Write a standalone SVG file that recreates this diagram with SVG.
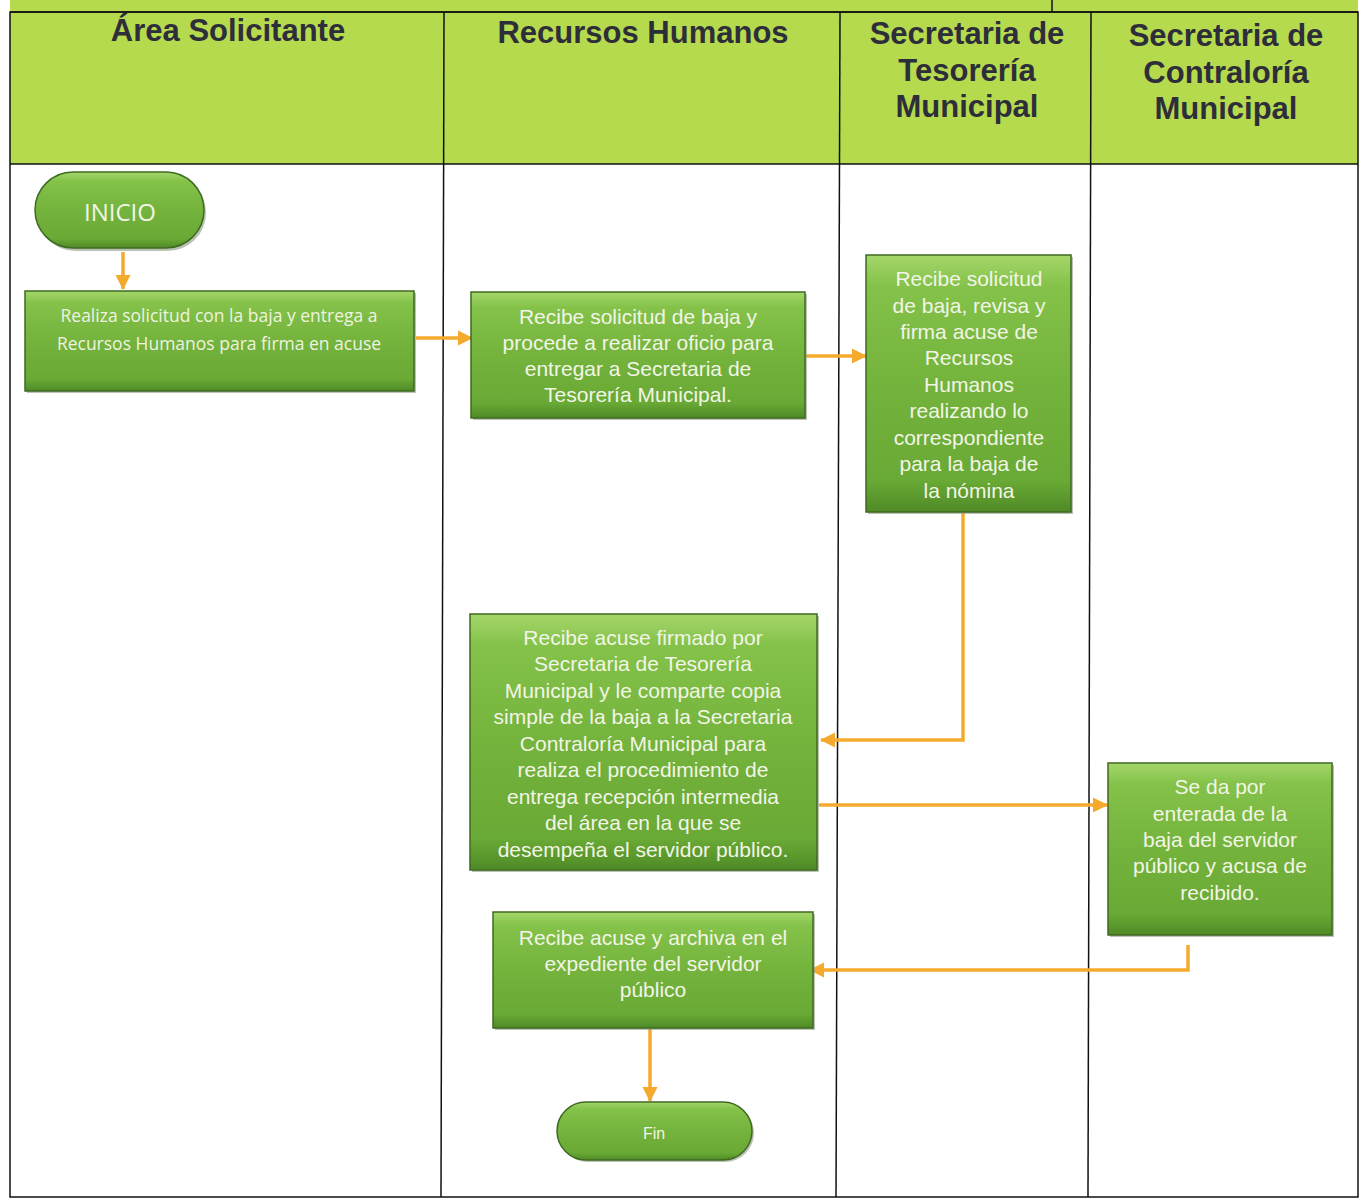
<svg xmlns="http://www.w3.org/2000/svg" width="1364" height="1201" viewBox="0 0 1364 1201">
<style>
.hdr{font-family:"Liberation Sans",Arial,sans-serif;font-weight:bold;font-size:31px;fill:#2e2e3a;text-anchor:middle}
.bt{font-family:"Liberation Sans",Arial,sans-serif;font-size:21px;fill:#f2f5e6;text-anchor:middle}
.bt1{font-family:"Open Sans","Liberation Sans",sans-serif;font-size:17.5px;fill:#eef3e0;text-anchor:middle}
.box{fill:url(#g);stroke:#3f6a22;stroke-width:1.5}
.sh{fill:#8a9a80;opacity:0.6}
.line{stroke:#111;stroke-width:1.5;fill:none}
.con{stroke:#f4aa2c;stroke-width:3.5;fill:none}
</style>
<defs>
<linearGradient id="g" x1="0" y1="0" x2="0" y2="1">
<stop offset="0" stop-color="#a5d66a"/>
<stop offset="0.12" stop-color="#84c24a"/>
<stop offset="0.5" stop-color="#74b33c"/>
<stop offset="0.88" stop-color="#69a935"/>
<stop offset="1" stop-color="#4f8a26"/>
</linearGradient>
<marker id="ah" markerUnits="userSpaceOnUse" markerWidth="18" markerHeight="18" refX="14" refY="9" orient="auto">
<path d="M0,1.5 L15,9 L0,16.5 Z" fill="#f4aa2c"/>
</marker>
</defs>
<rect width="1364" height="1201" fill="#ffffff"/>
<rect x="10" y="0" width="1348" height="164" fill="#b6da4e"/>
<g class="line">
<line x1="1052" y1="0" x2="1052" y2="12"/>
<line x1="10" y1="12" x2="1358" y2="12"/>
<line x1="10" y1="164" x2="1358" y2="164"/>
<rect x="10" y="12" width="1348" height="1185"/>
<line x1="444" y1="12" x2="441" y2="1197"/>
<line x1="840" y1="12" x2="836" y2="1197"/>
<line x1="1091" y1="12" x2="1088" y2="1197"/>
</g>
<g id="lanes">
<text class="hdr" x="228" y="41">Área Solicitante</text>
<text class="hdr" x="643" y="43">Recursos Humanos</text>
<text class="hdr" x="967" y="44">Secretaria de</text>
<text class="hdr" x="967" y="81">Tesorería</text>
<text class="hdr" x="967" y="117">Municipal</text>
<text class="hdr" x="1226" y="46">Secretaria de</text>
<text class="hdr" x="1226" y="83">Contraloría</text>
<text class="hdr" x="1226" y="119">Municipal</text>
</g>
<g id="connectors">
<line class="con" x1="123" y1="252" x2="123" y2="289" marker-end="url(#ah)"/>
<line class="con" x1="416" y1="338" x2="472" y2="338" marker-end="url(#ah)"/>
<line class="con" x1="806" y1="356" x2="866" y2="356" marker-end="url(#ah)"/>
<polyline class="con" points="963,513 963,740 821,740" marker-end="url(#ah)"/>
<line class="con" x1="819" y1="805" x2="1107" y2="805" marker-end="url(#ah)"/>
<polyline class="con" points="1188,945 1188,970 810,970" marker-end="url(#ah)"/>
<line class="con" x1="650" y1="1029" x2="650" y2="1101" marker-end="url(#ah)"/>
</g>
<g id="inicio">
<rect class="sh" x="37" y="175" width="169" height="76" rx="38"/>
<rect class="box" x="35" y="172" width="169" height="76" rx="38"/>
<text x="120" y="221" font-family="Open Sans, Liberation Sans, sans-serif" font-size="24" fill="#f2f5e6" text-anchor="middle">INICIO</text>
</g>
<g id="n1">
<rect class="sh" x="27" y="293" width="389" height="100"/>
<rect class="box" x="25" y="291" width="389" height="100"/>
<text class="bt1" x="219" y="322">Realiza solicitud con la baja y entrega a</text>
<text class="bt1" x="219" y="350">Recursos Humanos para firma en acuse</text>
</g>
<g id="n2">
<rect class="sh" x="473" y="294" width="334" height="126"/>
<rect class="box" x="471" y="292" width="334" height="126"/>
<text class="bt" x="638" y="324">Recibe solicitud de baja y</text>
<text class="bt" x="638" y="350">procede a realizar oficio para</text>
<text class="bt" x="638" y="376">entregar a Secretaria de</text>
<text class="bt" x="638" y="402">Tesorería Municipal.</text>
</g>
<g id="n3">
<rect class="sh" x="868" y="257" width="205" height="257"/>
<rect class="box" x="866" y="255" width="205" height="257"/>
<text class="bt" x="969" y="286">Recibe solicitud</text>
<text class="bt" x="969" y="313">de baja, revisa y</text>
<text class="bt" x="969" y="339">firma acuse de</text>
<text class="bt" x="969" y="365">Recursos</text>
<text class="bt" x="969" y="392">Humanos</text>
<text class="bt" x="969" y="418">realizando lo</text>
<text class="bt" x="969" y="445">correspondiente</text>
<text class="bt" x="969" y="471">para la baja de</text>
<text class="bt" x="969" y="498">la nómina</text>
</g>
<g id="n4">
<rect class="sh" x="472" y="616" width="347" height="256"/>
<rect class="box" x="470" y="614" width="347" height="256"/>
<text class="bt" x="643" y="645">Recibe acuse firmado por</text>
<text class="bt" x="643" y="671">Secretaria de Tesorería</text>
<text class="bt" x="643" y="698">Municipal y le comparte copia</text>
<text class="bt" x="643" y="724">simple de la baja a la Secretaria</text>
<text class="bt" x="643" y="751">Contraloría Municipal para</text>
<text class="bt" x="643" y="777">realiza el procedimiento de</text>
<text class="bt" x="643" y="804">entrega recepción intermedia</text>
<text class="bt" x="643" y="830">del área en la que se</text>
<text class="bt" x="643" y="857">desempeña el servidor público.</text>
</g>
<g id="n5">
<rect class="sh" x="1110" y="765" width="224" height="172"/>
<rect class="box" x="1108" y="763" width="224" height="172"/>
<text class="bt" x="1220" y="794">Se da por</text>
<text class="bt" x="1220" y="821">enterada de la</text>
<text class="bt" x="1220" y="847">baja del servidor</text>
<text class="bt" x="1220" y="873">público y acusa de</text>
<text class="bt" x="1220" y="900">recibido.</text>
</g>
<g id="n6">
<rect class="sh" x="495" y="914" width="320" height="116"/>
<rect class="box" x="493" y="912" width="320" height="116"/>
<text class="bt" x="653" y="945">Recibe acuse y archiva en el</text>
<text class="bt" x="653" y="971">expediente del servidor</text>
<text class="bt" x="653" y="997">público</text>
</g>
<g id="fin">
<rect class="sh" x="559" y="1104" width="195" height="58" rx="29"/>
<rect class="box" x="557" y="1102" width="195" height="58" rx="29"/>
<text x="654" y="1139" font-family="Liberation Sans, Arial, sans-serif" font-size="16" fill="#f2f5e6" text-anchor="middle">Fin</text>
</g>
</svg>
